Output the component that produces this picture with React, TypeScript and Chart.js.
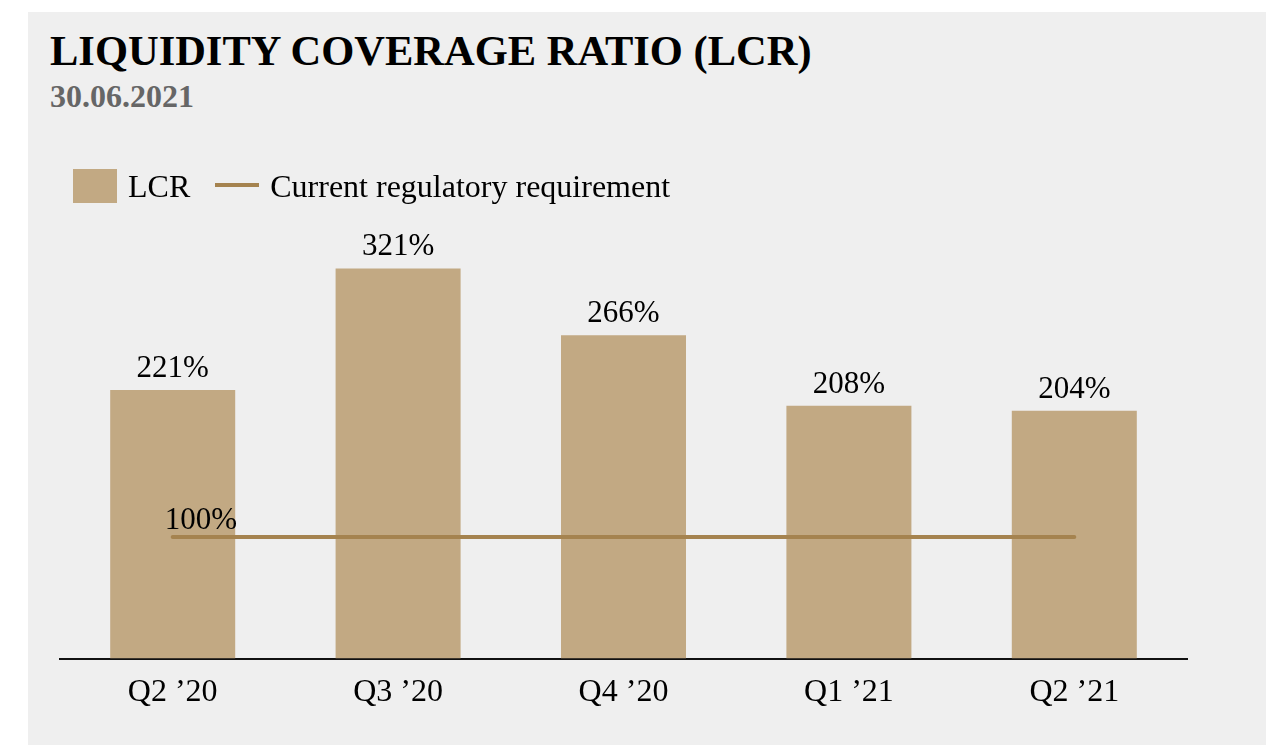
import React, { useEffect, useRef } from "react";
import { Chart, registerables } from "chart.js";

Chart.register(...registerables);

const categories = ["Q2 ’20", "Q3 ’20", "Q4 ’20", "Q1 ’21", "Q2 ’21"];
const lcrValues = [221, 321, 266, 208, 204];
const requirementValues = [100, 100, 100, 100, 100];
const seriesNames = ["LCR", "Current regulatory requirement"];
const titleText = "LIQUIDITY COVERAGE RATIO (LCR)";
const subtitleText = "30.06.2021";

const BAR_COLOR = "#c2a983";
const LINE_COLOR = "#a5834f";
const BG = "#efefef";
const FONT = "'Liberation Serif', 'Times New Roman', serif";

// marker image: filled rect of w x h, placed at top of a canvas of total height totalH
function makeMarker(w: number, h: number, totalH: number, color: string) {
  const c = document.createElement("canvas");
  c.width = w;
  c.height = totalH;
  const ctx = c.getContext("2d")!;
  ctx.fillStyle = color;
  ctx.fillRect(0, 0, w, h);
  return c;
}

const valueLabels = {
  id: "valueLabels",
  afterDatasetsDraw(chart: any) {
    const ctx = chart.ctx;
    ctx.save();
    ctx.font = `31px ${FONT}`;
    ctx.fillStyle = "#000";
    ctx.textBaseline = "alphabetic";
    const barMeta = chart.getDatasetMeta(0);
    barMeta.data.forEach((el: any, i: number) => {
      ctx.textAlign = "center";
      ctx.fillText(`${lcrValues[i]}%`, el.x, el.y - 13);
    });
    const lineMeta = chart.getDatasetMeta(1);
    const p = lineMeta.data[0];
    if (p) {
      ctx.textAlign = "left";
      ctx.fillText(`${requirementValues[0]}%`, p.x - 8, p.y - 8);
    }
    ctx.restore();
  },
};

export default function App() {
  const ref = useRef<HTMLCanvasElement | null>(null);

  useEffect(() => {
    if (!ref.current) return;
    const boxMarker = makeMarker(44, 34, 40, BAR_COLOR);
    const lineMarker = makeMarker(44, 4, 12, LINE_COLOR);
    const chart = new Chart(ref.current, {
      type: "bar",
      data: {
        labels: categories,
        datasets: [
          {
            type: "bar",
            label: seriesNames[0],
            data: lcrValues,
            backgroundColor: BAR_COLOR,
            barPercentage: 0.5546,
            categoryPercentage: 1,
            order: 1,
          } as any,
          {
            type: "line",
            label: seriesNames[1],
            data: requirementValues,
            borderColor: LINE_COLOR,
            borderWidth: 4,
            borderCapStyle: "round",
            pointRadius: 0,
            fill: false,
            order: 0,
          } as any,
        ],
      },
      options: {
        responsive: false,
        animation: false,
        devicePixelRatio: 1,
        layout: { padding: { left: 48, right: 79, top: 143, bottom: 26 } },
        plugins: {
          tooltip: { enabled: false },
          title: { display: false },
          legend: {
            display: true,
            position: "top",
            align: "start",
            labels: {
              usePointStyle: true,
              pointStyleWidth: 34,
              padding: 30,
              color: "#000",
              font: { family: FONT, size: 32 },
              generateLabels: () => [
                {
                  text: seriesNames[0],
                  fillStyle: BAR_COLOR,
                  strokeStyle: BAR_COLOR,
                  lineWidth: 0,
                  pointStyle: boxMarker as any,
                  datasetIndex: 0,
                  hidden: false,
                },
                {
                  text: seriesNames[1],
                  fillStyle: LINE_COLOR,
                  strokeStyle: LINE_COLOR,
                  lineWidth: 0,
                  pointStyle: lineMarker as any,
                  datasetIndex: 1,
                  hidden: false,
                },
              ],
            },
          },
        },
        scales: {
          x: {
            grid: { display: false },
            border: { display: true, color: "#111", width: 2 },
            ticks: {
              color: "#000",
              padding: 7,
              font: { family: FONT, size: 32 },
            },
          },
          y: {
            display: true,
            min: 0,
            max: 365,
            grid: { display: false },
            border: { display: false },
            ticks: { display: false },
            afterFit: (scale: any) => {
              scale.width = 12;
            },
          },
        },
      },
      plugins: [valueLabels],
    });
    return () => chart.destroy();
  }, []);

  return (
    <div style={{ position: "absolute", left: 0, top: 0, width: 1266, height: 745, overflow: "hidden" }}>
      <div style={{ position: "absolute", left: 28, top: 12, width: 1238, height: 733, background: BG }} />
      <div
        style={{
          position: "absolute",
          left: 50,
          top: 30,
          fontFamily: FONT,
          fontWeight: "bold",
          fontSize: 42.5,
          lineHeight: "42px",
          color: "#000",
          whiteSpace: "nowrap",
        }}
      >
        {titleText}
      </div>
      <div
        style={{
          position: "absolute",
          left: 50,
          top: 80.5,
          fontFamily: FONT,
          fontWeight: "bold",
          fontSize: 32,
          lineHeight: "31px",
          color: "#666",
          whiteSpace: "nowrap",
        }}
      >
        {subtitleText}
      </div>
      <canvas ref={ref} width={1266} height={745} style={{ position: "absolute", left: 0, top: 0 }} />
    </div>
  );
}
